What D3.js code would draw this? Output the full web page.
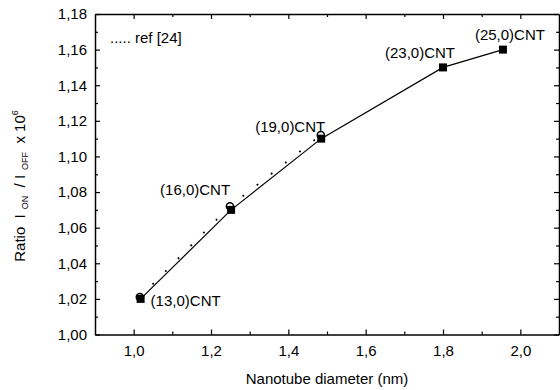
<!DOCTYPE html>
<html>
<head>
<meta charset="utf-8">
<script src="https://cdn.jsdelivr.net/npm/d3@7/dist/d3.min.js"></script>
<style>
  html, body { margin: 0; padding: 0; background: #fff; }
  svg { display: block; font-family: "Liberation Sans", Arial, sans-serif; }
</style>
</head>
<body>
<svg id="chart" width="560" height="390"></svg>
<script>
// Zigzag nanotubes: ON/OFF current ratio versus diameter
const tubes      = ["(13,0)CNT", "(16,0)CNT", "(19,0)CNT", "(23,0)CNT", "(25,0)CNT"];
const diameters  = [1.018, 1.252, 1.485, 1.800, 1.955];
const ratios     = [1.020, 1.070, 1.110, 1.150, 1.160];

// Values reported in ref [24]
const refDiameters = [1.016, 1.249, 1.484];
const refRatios    = [1.021, 1.072, 1.112];

// Axis ticks
const xMajor = [1.0, 1.2, 1.4, 1.6, 1.8, 2.0];
const xMinor = [1.1, 1.3, 1.5, 1.7, 1.9];
const yMajor = [1.00, 1.02, 1.04, 1.06, 1.08, 1.10, 1.12, 1.14, 1.16, 1.18];
const yMinor = [1.01, 1.03, 1.05, 1.07, 1.09, 1.11, 1.13, 1.15, 1.17];

// Label placement relative to each square marker (pixels)
const labelOffsets = [[45, 7], [-36, -15], [-31, -7], [-23, -9], [7, -10]];

const svg = d3.select("#chart");
const plotLeft = 95, plotRight = 559, plotTop = 14, plotBottom = 334.5;

const x = d3.scaleLinear().domain([0.9, 2.1]).range([plotLeft, plotRight]);
const y = d3.scaleLinear().domain([1.00, 1.18]).range([plotBottom, plotTop]);

const locale = d3.formatLocale({ decimal: ",", thousands: ".", grouping: [3], currency: ["", ""] });
const fx = locale.format(".1f");
const fy = locale.format(".2f");

const fontSize = 15;

function styleAxis(g) {
  g.selectAll("path.domain").attr("stroke", "#000").attr("stroke-width", 1.5);
  g.selectAll(".tick line").attr("stroke", "#000").attr("stroke-width", 1.2);
  g.selectAll("text").attr("font-size", fontSize).attr("fill", "#000")
    .attr("font-family", "'Liberation Sans', Arial, sans-serif");
}

// bottom axis
svg.append("g").attr("transform", `translate(0,${plotBottom})`)
  .call(d3.axisBottom(x).tickValues(xMajor).tickFormat(fx).tickSizeInner(-5).tickSizeOuter(0).tickPadding(11))
  .call(styleAxis);
svg.append("g").attr("transform", `translate(0,${plotBottom})`)
  .call(d3.axisBottom(x).tickValues(xMinor).tickFormat("").tickSizeInner(-3).tickSizeOuter(0))
  .call(styleAxis).call(g => g.select("path.domain").remove());

// top axis
svg.append("g").attr("transform", `translate(0,${plotTop})`)
  .call(d3.axisTop(x).tickValues(xMajor).tickFormat("").tickSizeInner(-5).tickSizeOuter(0))
  .call(styleAxis);
svg.append("g").attr("transform", `translate(0,${plotTop})`)
  .call(d3.axisTop(x).tickValues(xMinor).tickFormat("").tickSizeInner(-3).tickSizeOuter(0))
  .call(styleAxis).call(g => g.select("path.domain").remove());

// left axis
svg.append("g").attr("transform", `translate(${plotLeft},0)`)
  .call(d3.axisLeft(y).tickValues(yMajor).tickFormat(fy).tickSizeInner(-5).tickSizeOuter(0).tickPadding(8))
  .call(styleAxis);
svg.append("g").attr("transform", `translate(${plotLeft},0)`)
  .call(d3.axisLeft(y).tickValues(yMinor).tickFormat("").tickSizeInner(-3).tickSizeOuter(0))
  .call(styleAxis).call(g => g.select("path.domain").remove());

// right axis
svg.append("g").attr("transform", `translate(${plotRight},0)`)
  .call(d3.axisRight(y).tickValues(yMajor).tickFormat("").tickSizeInner(-5).tickSizeOuter(0))
  .call(styleAxis);
svg.append("g").attr("transform", `translate(${plotRight},0)`)
  .call(d3.axisRight(y).tickValues(yMinor).tickFormat("").tickSizeInner(-3).tickSizeOuter(0))
  .call(styleAxis).call(g => g.select("path.domain").remove());

// axis titles
svg.append("text")
  .attr("x", (plotLeft + plotRight) / 2).attr("y", 384)
  .attr("text-anchor", "middle").attr("font-size", fontSize)
  .text("Nanotube diameter (nm)");

const yTitle = svg.append("text")
  .attr("transform", `translate(25,186) rotate(-90)`)
  .attr("text-anchor", "middle").attr("font-size", fontSize)
  .attr("xml:space", "preserve");
yTitle.append("tspan").text("Ratio  I");
yTitle.append("tspan").attr("font-size", 9).attr("dy", 3).text("  ON");
yTitle.append("tspan").attr("dy", -3).text("  / I");
yTitle.append("tspan").attr("font-size", 9).attr("dy", 3).text("  OFF");
yTitle.append("tspan").attr("dy", -3).text("  x 10");
yTitle.append("tspan").attr("font-size", 9).attr("dy", -7).text("6");

// legend
svg.append("text").attr("x", 110).attr("y", 43).attr("font-size", fontSize)
  .text("..... ref [24]");

// ref [24] dotted curve
const refPts = refDiameters.map((d, i) => [d, refRatios[i]]);
const pts = diameters.map((d, i) => [d, ratios[i]]);
const line = d3.line().x(d => x(d[0])).y(d => y(d[1]));

svg.append("path").attr("d", line(refPts))
  .attr("fill", "none").attr("stroke", "#000").attr("stroke-width", 1.8)
  .attr("stroke-dasharray", "1.8 16.2");

// this work: solid line
svg.append("path").attr("d", line(pts))
  .attr("fill", "none").attr("stroke", "#000").attr("stroke-width", 1.2);

// ref [24] open circles
svg.selectAll("circle.ref").data(refPts).enter().append("circle")
  .attr("class", "ref")
  .attr("cx", d => x(d[0])).attr("cy", d => y(d[1])).attr("r", 3.6)
  .attr("fill", "#fff").attr("stroke", "#000").attr("stroke-width", 1.5);

// squares
const sq = 8;
svg.selectAll("rect.pt").data(pts).enter().append("rect")
  .attr("class", "pt")
  .attr("x", d => x(d[0]) - sq / 2).attr("y", d => y(d[1]) - sq / 2)
  .attr("width", sq).attr("height", sq).attr("fill", "#000");

// point labels
svg.selectAll("text.lbl").data(pts).enter().append("text")
  .attr("class", "lbl")
  .attr("x", (d, i) => x(d[0]) + labelOffsets[i][0])
  .attr("y", (d, i) => y(d[1]) + labelOffsets[i][1])
  .attr("text-anchor", "middle").attr("font-size", fontSize)
  .text((d, i) => tubes[i]);
</script>
</body>
</html>
